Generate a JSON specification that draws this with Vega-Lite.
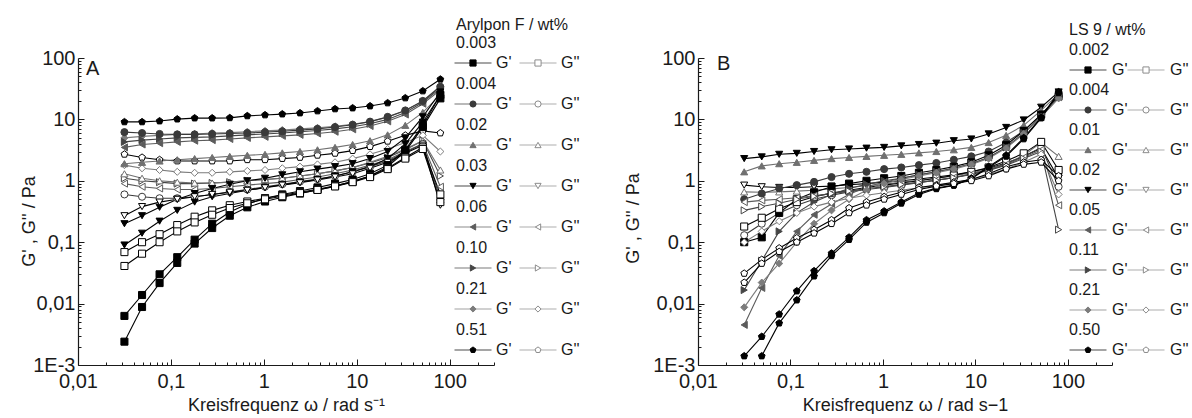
{
"$schema": "https://vega.github.io/schema/vega-lite/v6.json",
"background": "white",
"padding": {"left": 20, "top": 17, "right": 0, "bottom": 0},
"config": {
 "font": "Liberation Sans",
 "view": {"stroke": null},
 "axis": {"grid": false, "domainColor": "#1a1a1a", "tickColor": "#1a1a1a", "labelColor": "#1a1a1a", "titleColor": "#1a1a1a", "labelFontSize": 20, "titleFontSize": 18, "titleFontWeight": "normal", "labelOverlap": false, "labelFlush": false, "domainWidth": 1.2, "tickWidth": 1}
},
"datasets": {
"A": [
{"c":"0.51","m":"G'","w":0.0316,"v":9.1},{"c":"0.51","m":"G'","w":0.0489,"v":9.1},{"c":"0.51","m":"G'","w":0.0755,"v":9.4},{"c":"0.51","m":"G'","w":0.117,"v":10.1},{"c":"0.51","m":"G'","w":0.18,"v":10.5},{"c":"0.51","m":"G'","w":0.278,"v":10.5},{"c":"0.51","m":"G'","w":0.43,"v":10.6},{"c":"0.51","m":"G'","w":0.664,"v":11.4},{"c":"0.51","m":"G'","w":1.03,"v":11.8},{"c":"0.51","m":"G'","w":1.58,"v":12.2},{"c":"0.51","m":"G'","w":2.45,"v":12.7},{"c":"0.51","m":"G'","w":3.78,"v":13.7},{"c":"0.51","m":"G'","w":5.84,"v":14.8},{"c":"0.51","m":"G'","w":9.03,"v":15.3},{"c":"0.51","m":"G'","w":13.9,"v":16.5},{"c":"0.51","m":"G'","w":21.5,"v":18.5},{"c":"0.51","m":"G'","w":33.3,"v":22.3},{"c":"0.51","m":"G'","w":51.4,"v":29},{"c":"0.51","m":"G'","w":79.4,"v":45},
{"c":"0.51","m":"G''","w":0.0316,"v":2.7},{"c":"0.51","m":"G''","w":0.0489,"v":2.4},{"c":"0.51","m":"G''","w":0.0755,"v":2.2},{"c":"0.51","m":"G''","w":0.117,"v":2.1},{"c":"0.51","m":"G''","w":0.18,"v":2.1},{"c":"0.51","m":"G''","w":0.278,"v":2.1},{"c":"0.51","m":"G''","w":0.43,"v":2.1},{"c":"0.51","m":"G''","w":0.664,"v":2.2},{"c":"0.51","m":"G''","w":1.03,"v":2.2},{"c":"0.51","m":"G''","w":1.58,"v":2.3},{"c":"0.51","m":"G''","w":2.45,"v":2.4},{"c":"0.51","m":"G''","w":3.78,"v":2.6},{"c":"0.51","m":"G''","w":5.84,"v":2.8},{"c":"0.51","m":"G''","w":9.03,"v":3.1},{"c":"0.51","m":"G''","w":13.9,"v":3.6},{"c":"0.51","m":"G''","w":21.5,"v":4.4},{"c":"0.51","m":"G''","w":33.3,"v":5.5},{"c":"0.51","m":"G''","w":51.4,"v":6.5},{"c":"0.51","m":"G''","w":79.4,"v":6.0},
{"c":"0.21","m":"G'","w":0.0316,"v":5.0},{"c":"0.21","m":"G'","w":0.0489,"v":5.3},{"c":"0.21","m":"G'","w":0.0755,"v":5.5},{"c":"0.21","m":"G'","w":0.117,"v":5.7},{"c":"0.21","m":"G'","w":0.18,"v":5.8},{"c":"0.21","m":"G'","w":0.278,"v":6.0},{"c":"0.21","m":"G'","w":0.43,"v":6.1},{"c":"0.21","m":"G'","w":0.664,"v":6.3},{"c":"0.21","m":"G'","w":1.03,"v":6.5},{"c":"0.21","m":"G'","w":1.58,"v":6.7},{"c":"0.21","m":"G'","w":2.45,"v":7.0},{"c":"0.21","m":"G'","w":3.78,"v":7.3},{"c":"0.21","m":"G'","w":5.84,"v":7.7},{"c":"0.21","m":"G'","w":9.03,"v":8.3},{"c":"0.21","m":"G'","w":13.9,"v":9.2},{"c":"0.21","m":"G'","w":21.5,"v":10.8},{"c":"0.21","m":"G'","w":33.3,"v":14},{"c":"0.21","m":"G'","w":51.4,"v":20},{"c":"0.21","m":"G'","w":79.4,"v":35},
{"c":"0.21","m":"G''","w":0.0316,"v":1.8},{"c":"0.21","m":"G''","w":0.0489,"v":1.6},{"c":"0.21","m":"G''","w":0.0755,"v":1.5},{"c":"0.21","m":"G''","w":0.117,"v":1.4},{"c":"0.21","m":"G''","w":0.18,"v":1.35},{"c":"0.21","m":"G''","w":0.278,"v":1.35},{"c":"0.21","m":"G''","w":0.43,"v":1.4},{"c":"0.21","m":"G''","w":0.664,"v":1.45},{"c":"0.21","m":"G''","w":1.03,"v":1.5},{"c":"0.21","m":"G''","w":1.58,"v":1.6},{"c":"0.21","m":"G''","w":2.45,"v":1.7},{"c":"0.21","m":"G''","w":3.78,"v":1.85},{"c":"0.21","m":"G''","w":5.84,"v":2.0},{"c":"0.21","m":"G''","w":9.03,"v":2.3},{"c":"0.21","m":"G''","w":13.9,"v":2.7},{"c":"0.21","m":"G''","w":21.5,"v":3.3},{"c":"0.21","m":"G''","w":33.3,"v":4.2},{"c":"0.21","m":"G''","w":51.4,"v":5.5},{"c":"0.21","m":"G''","w":79.4,"v":3.0},
{"c":"0.10","m":"G'","w":0.0316,"v":4.3},{"c":"0.10","m":"G'","w":0.0489,"v":4.6},{"c":"0.10","m":"G'","w":0.0755,"v":4.8},{"c":"0.10","m":"G'","w":0.117,"v":5.0},{"c":"0.10","m":"G'","w":0.18,"v":5.1},{"c":"0.10","m":"G'","w":0.278,"v":5.2},{"c":"0.10","m":"G'","w":0.43,"v":5.4},{"c":"0.10","m":"G'","w":0.664,"v":5.6},{"c":"0.10","m":"G'","w":1.03,"v":5.8},{"c":"0.10","m":"G'","w":1.58,"v":6.0},{"c":"0.10","m":"G'","w":2.45,"v":6.3},{"c":"0.10","m":"G'","w":3.78,"v":6.6},{"c":"0.10","m":"G'","w":5.84,"v":7.0},{"c":"0.10","m":"G'","w":9.03,"v":7.6},{"c":"0.10","m":"G'","w":13.9,"v":8.5},{"c":"0.10","m":"G'","w":21.5,"v":10},{"c":"0.10","m":"G'","w":33.3,"v":13},{"c":"0.10","m":"G'","w":51.4,"v":19},{"c":"0.10","m":"G'","w":79.4,"v":32},
{"c":"0.10","m":"G''","w":0.0316,"v":1.1},{"c":"0.10","m":"G''","w":0.0489,"v":1.0},{"c":"0.10","m":"G''","w":0.0755,"v":0.95},{"c":"0.10","m":"G''","w":0.117,"v":0.9},{"c":"0.10","m":"G''","w":0.18,"v":0.9},{"c":"0.10","m":"G''","w":0.278,"v":0.92},{"c":"0.10","m":"G''","w":0.43,"v":0.95},{"c":"0.10","m":"G''","w":0.664,"v":1.0},{"c":"0.10","m":"G''","w":1.03,"v":1.05},{"c":"0.10","m":"G''","w":1.58,"v":1.1},{"c":"0.10","m":"G''","w":2.45,"v":1.2},{"c":"0.10","m":"G''","w":3.78,"v":1.3},{"c":"0.10","m":"G''","w":5.84,"v":1.45},{"c":"0.10","m":"G''","w":9.03,"v":1.65},{"c":"0.10","m":"G''","w":13.9,"v":1.95},{"c":"0.10","m":"G''","w":21.5,"v":2.4},{"c":"0.10","m":"G''","w":33.3,"v":3.2},{"c":"0.10","m":"G''","w":51.4,"v":4.5},{"c":"0.10","m":"G''","w":79.4,"v":1.2},
{"c":"0.06","m":"G'","w":0.0316,"v":3.5},{"c":"0.06","m":"G'","w":0.0489,"v":3.9},{"c":"0.06","m":"G'","w":0.0755,"v":4.1},{"c":"0.06","m":"G'","w":0.117,"v":4.3},{"c":"0.06","m":"G'","w":0.18,"v":4.5},{"c":"0.06","m":"G'","w":0.278,"v":4.6},{"c":"0.06","m":"G'","w":0.43,"v":4.8},{"c":"0.06","m":"G'","w":0.664,"v":5.0},{"c":"0.06","m":"G'","w":1.03,"v":5.2},{"c":"0.06","m":"G'","w":1.58,"v":5.4},{"c":"0.06","m":"G'","w":2.45,"v":5.6},{"c":"0.06","m":"G'","w":3.78,"v":5.9},{"c":"0.06","m":"G'","w":5.84,"v":6.3},{"c":"0.06","m":"G'","w":9.03,"v":6.9},{"c":"0.06","m":"G'","w":13.9,"v":7.8},{"c":"0.06","m":"G'","w":21.5,"v":9.3},{"c":"0.06","m":"G'","w":33.3,"v":12},{"c":"0.06","m":"G'","w":51.4,"v":18},{"c":"0.06","m":"G'","w":79.4,"v":30},
{"c":"0.06","m":"G''","w":0.0316,"v":0.9},{"c":"0.06","m":"G''","w":0.0489,"v":0.8},{"c":"0.06","m":"G''","w":0.0755,"v":0.75},{"c":"0.06","m":"G''","w":0.117,"v":0.72},{"c":"0.06","m":"G''","w":0.18,"v":0.72},{"c":"0.06","m":"G''","w":0.278,"v":0.75},{"c":"0.06","m":"G''","w":0.43,"v":0.8},{"c":"0.06","m":"G''","w":0.664,"v":0.85},{"c":"0.06","m":"G''","w":1.03,"v":0.9},{"c":"0.06","m":"G''","w":1.58,"v":0.95},{"c":"0.06","m":"G''","w":2.45,"v":1.05},{"c":"0.06","m":"G''","w":3.78,"v":1.15},{"c":"0.06","m":"G''","w":5.84,"v":1.3},{"c":"0.06","m":"G''","w":9.03,"v":1.5},{"c":"0.06","m":"G''","w":13.9,"v":1.8},{"c":"0.06","m":"G''","w":21.5,"v":2.2},{"c":"0.06","m":"G''","w":33.3,"v":3.0},{"c":"0.06","m":"G''","w":51.4,"v":4.0},{"c":"0.06","m":"G''","w":79.4,"v":0.8},
{"c":"0.02","m":"G'","w":0.0316,"v":1.9},{"c":"0.02","m":"G'","w":0.0489,"v":2.0},{"c":"0.02","m":"G'","w":0.0755,"v":2.1},{"c":"0.02","m":"G'","w":0.117,"v":2.2},{"c":"0.02","m":"G'","w":0.18,"v":2.3},{"c":"0.02","m":"G'","w":0.278,"v":2.4},{"c":"0.02","m":"G'","w":0.43,"v":2.5},{"c":"0.02","m":"G'","w":0.664,"v":2.6},{"c":"0.02","m":"G'","w":1.03,"v":2.7},{"c":"0.02","m":"G'","w":1.58,"v":2.85},{"c":"0.02","m":"G'","w":2.45,"v":3.0},{"c":"0.02","m":"G'","w":3.78,"v":3.2},{"c":"0.02","m":"G'","w":5.84,"v":3.5},{"c":"0.02","m":"G'","w":9.03,"v":3.9},{"c":"0.02","m":"G'","w":13.9,"v":4.5},{"c":"0.02","m":"G'","w":21.5,"v":5.6},{"c":"0.02","m":"G'","w":33.3,"v":8},{"c":"0.02","m":"G'","w":51.4,"v":13},{"c":"0.02","m":"G'","w":79.4,"v":25},
{"c":"0.02","m":"G''","w":0.0316,"v":1.3},{"c":"0.02","m":"G''","w":0.0489,"v":1.1},{"c":"0.02","m":"G''","w":0.0755,"v":1.0},{"c":"0.02","m":"G''","w":0.117,"v":0.95},{"c":"0.02","m":"G''","w":0.18,"v":0.92},{"c":"0.02","m":"G''","w":0.278,"v":0.92},{"c":"0.02","m":"G''","w":0.43,"v":0.95},{"c":"0.02","m":"G''","w":0.664,"v":1.0},{"c":"0.02","m":"G''","w":1.03,"v":1.05},{"c":"0.02","m":"G''","w":1.58,"v":1.1},{"c":"0.02","m":"G''","w":2.45,"v":1.2},{"c":"0.02","m":"G''","w":3.78,"v":1.3},{"c":"0.02","m":"G''","w":5.84,"v":1.45},{"c":"0.02","m":"G''","w":9.03,"v":1.65},{"c":"0.02","m":"G''","w":13.9,"v":2.0},{"c":"0.02","m":"G''","w":21.5,"v":2.5},{"c":"0.02","m":"G''","w":33.3,"v":3.3},{"c":"0.02","m":"G''","w":51.4,"v":4.5},{"c":"0.02","m":"G''","w":79.4,"v":1.5},
{"c":"0.004","m":"G'","w":0.0316,"v":6.2},{"c":"0.004","m":"G'","w":0.0489,"v":6.0},{"c":"0.004","m":"G'","w":0.0755,"v":5.8},{"c":"0.004","m":"G'","w":0.117,"v":5.7},{"c":"0.004","m":"G'","w":0.18,"v":5.7},{"c":"0.004","m":"G'","w":0.278,"v":5.8},{"c":"0.004","m":"G'","w":0.43,"v":5.9},{"c":"0.004","m":"G'","w":0.664,"v":6.0},{"c":"0.004","m":"G'","w":1.03,"v":6.2},{"c":"0.004","m":"G'","w":1.58,"v":6.4},{"c":"0.004","m":"G'","w":2.45,"v":6.7},{"c":"0.004","m":"G'","w":3.78,"v":7.0},{"c":"0.004","m":"G'","w":5.84,"v":7.5},{"c":"0.004","m":"G'","w":9.03,"v":8.2},{"c":"0.004","m":"G'","w":13.9,"v":9.2},{"c":"0.004","m":"G'","w":21.5,"v":11},{"c":"0.004","m":"G'","w":33.3,"v":14},{"c":"0.004","m":"G'","w":51.4,"v":20},{"c":"0.004","m":"G'","w":79.4,"v":34},
{"c":"0.004","m":"G''","w":0.0316,"v":0.6},{"c":"0.004","m":"G''","w":0.0489,"v":0.55},{"c":"0.004","m":"G''","w":0.0755,"v":0.52},{"c":"0.004","m":"G''","w":0.117,"v":0.52},{"c":"0.004","m":"G''","w":0.18,"v":0.55},{"c":"0.004","m":"G''","w":0.278,"v":0.6},{"c":"0.004","m":"G''","w":0.43,"v":0.66},{"c":"0.004","m":"G''","w":0.664,"v":0.72},{"c":"0.004","m":"G''","w":1.03,"v":0.8},{"c":"0.004","m":"G''","w":1.58,"v":0.88},{"c":"0.004","m":"G''","w":2.45,"v":0.97},{"c":"0.004","m":"G''","w":3.78,"v":1.07},{"c":"0.004","m":"G''","w":5.84,"v":1.2},{"c":"0.004","m":"G''","w":9.03,"v":1.4},{"c":"0.004","m":"G''","w":13.9,"v":1.7},{"c":"0.004","m":"G''","w":21.5,"v":2.1},{"c":"0.004","m":"G''","w":33.3,"v":2.9},{"c":"0.004","m":"G''","w":51.4,"v":4.0},{"c":"0.004","m":"G''","w":79.4,"v":0.5},
{"c":"0.03","m":"G'","w":0.0316,"v":0.2},{"c":"0.03","m":"G'","w":0.0489,"v":0.27},{"c":"0.03","m":"G'","w":0.0755,"v":0.37},{"c":"0.03","m":"G'","w":0.117,"v":0.5},{"c":"0.03","m":"G'","w":0.18,"v":0.62},{"c":"0.03","m":"G'","w":0.278,"v":0.75},{"c":"0.03","m":"G'","w":0.43,"v":0.88},{"c":"0.03","m":"G'","w":0.664,"v":1.0},{"c":"0.03","m":"G'","w":1.03,"v":1.1},{"c":"0.03","m":"G'","w":1.58,"v":1.25},{"c":"0.03","m":"G'","w":2.45,"v":1.4},{"c":"0.03","m":"G'","w":3.78,"v":1.55},{"c":"0.03","m":"G'","w":5.84,"v":1.7},{"c":"0.03","m":"G'","w":9.03,"v":1.9},{"c":"0.03","m":"G'","w":13.9,"v":2.3},{"c":"0.03","m":"G'","w":21.5,"v":3.0},{"c":"0.03","m":"G'","w":33.3,"v":5},{"c":"0.03","m":"G'","w":51.4,"v":11},{"c":"0.03","m":"G'","w":79.4,"v":28},
{"c":"0.03","m":"G'","r":2,"w":0.0316,"v":0.09},{"c":"0.03","m":"G'","r":2,"w":0.0489,"v":0.14},{"c":"0.03","m":"G'","r":2,"w":0.0755,"v":0.22},{"c":"0.03","m":"G'","r":2,"w":0.117,"v":0.33},{"c":"0.03","m":"G'","r":2,"w":0.18,"v":0.45},{"c":"0.03","m":"G'","r":2,"w":0.278,"v":0.55},{"c":"0.03","m":"G'","r":2,"w":0.43,"v":0.62},{"c":"0.03","m":"G'","r":2,"w":0.664,"v":0.7},{"c":"0.03","m":"G'","r":2,"w":1.03,"v":0.78},{"c":"0.03","m":"G'","r":2,"w":1.58,"v":0.86},{"c":"0.03","m":"G'","r":2,"w":2.45,"v":0.95},{"c":"0.03","m":"G'","r":2,"w":3.78,"v":1.05},{"c":"0.03","m":"G'","r":2,"w":5.84,"v":1.2},{"c":"0.03","m":"G'","r":2,"w":9.03,"v":1.4},{"c":"0.03","m":"G'","r":2,"w":13.9,"v":1.7},{"c":"0.03","m":"G'","r":2,"w":21.5,"v":2.3},{"c":"0.03","m":"G'","r":2,"w":33.3,"v":4},{"c":"0.03","m":"G'","r":2,"w":51.4,"v":9},{"c":"0.03","m":"G'","r":2,"w":79.4,"v":25},
{"c":"0.03","m":"G''","w":0.0316,"v":0.27},{"c":"0.03","m":"G''","w":0.0489,"v":0.38},{"c":"0.03","m":"G''","w":0.0755,"v":0.45},{"c":"0.03","m":"G''","w":0.117,"v":0.5},{"c":"0.03","m":"G''","w":0.18,"v":0.55},{"c":"0.03","m":"G''","w":0.278,"v":0.6},{"c":"0.03","m":"G''","w":0.43,"v":0.65},{"c":"0.03","m":"G''","w":0.664,"v":0.7},{"c":"0.03","m":"G''","w":1.03,"v":0.77},{"c":"0.03","m":"G''","w":1.58,"v":0.85},{"c":"0.03","m":"G''","w":2.45,"v":0.93},{"c":"0.03","m":"G''","w":3.78,"v":1.03},{"c":"0.03","m":"G''","w":5.84,"v":1.15},{"c":"0.03","m":"G''","w":9.03,"v":1.3},{"c":"0.03","m":"G''","w":13.9,"v":1.6},{"c":"0.03","m":"G''","w":21.5,"v":2.0},{"c":"0.03","m":"G''","w":33.3,"v":2.8},{"c":"0.03","m":"G''","w":51.4,"v":3.8},{"c":"0.03","m":"G''","w":79.4,"v":0.4},
{"c":"0.003","m":"G'","w":0.0316,"v":0.0063},{"c":"0.003","m":"G'","w":0.0489,"v":0.0138},{"c":"0.003","m":"G'","w":0.0755,"v":0.03},{"c":"0.003","m":"G'","w":0.117,"v":0.057},{"c":"0.003","m":"G'","w":0.18,"v":0.11},{"c":"0.003","m":"G'","w":0.278,"v":0.2},{"c":"0.003","m":"G'","w":0.43,"v":0.31},{"c":"0.003","m":"G'","w":0.664,"v":0.42},{"c":"0.003","m":"G'","w":1.03,"v":0.52},{"c":"0.003","m":"G'","w":1.58,"v":0.6},{"c":"0.003","m":"G'","w":2.45,"v":0.68},{"c":"0.003","m":"G'","w":3.78,"v":0.78},{"c":"0.003","m":"G'","w":5.84,"v":0.9},{"c":"0.003","m":"G'","w":9.03,"v":1.05},{"c":"0.003","m":"G'","w":13.9,"v":1.3},{"c":"0.003","m":"G'","w":21.5,"v":1.8},{"c":"0.003","m":"G'","w":33.3,"v":3.2},{"c":"0.003","m":"G'","w":51.4,"v":8},{"c":"0.003","m":"G'","w":79.4,"v":25},
{"c":"0.003","m":"G'","r":2,"w":0.0316,"v":0.0024},{"c":"0.003","m":"G'","r":2,"w":0.0489,"v":0.0088},{"c":"0.003","m":"G'","r":2,"w":0.0755,"v":0.0216},{"c":"0.003","m":"G'","r":2,"w":0.117,"v":0.046},{"c":"0.003","m":"G'","r":2,"w":0.18,"v":0.095},{"c":"0.003","m":"G'","r":2,"w":0.278,"v":0.17},{"c":"0.003","m":"G'","r":2,"w":0.43,"v":0.27},{"c":"0.003","m":"G'","r":2,"w":0.664,"v":0.37},{"c":"0.003","m":"G'","r":2,"w":1.03,"v":0.46},{"c":"0.003","m":"G'","r":2,"w":1.58,"v":0.54},{"c":"0.003","m":"G'","r":2,"w":2.45,"v":0.62},{"c":"0.003","m":"G'","r":2,"w":3.78,"v":0.71},{"c":"0.003","m":"G'","r":2,"w":5.84,"v":0.82},{"c":"0.003","m":"G'","r":2,"w":9.03,"v":0.97},{"c":"0.003","m":"G'","r":2,"w":13.9,"v":1.2},{"c":"0.003","m":"G'","r":2,"w":21.5,"v":1.7},{"c":"0.003","m":"G'","r":2,"w":33.3,"v":3.0},{"c":"0.003","m":"G'","r":2,"w":51.4,"v":7.5},{"c":"0.003","m":"G'","r":2,"w":79.4,"v":22},
{"c":"0.003","m":"G''","w":0.0316,"v":0.069},{"c":"0.003","m":"G''","w":0.0489,"v":0.1},{"c":"0.003","m":"G''","w":0.0755,"v":0.135},{"c":"0.003","m":"G''","w":0.117,"v":0.19},{"c":"0.003","m":"G''","w":0.18,"v":0.26},{"c":"0.003","m":"G''","w":0.278,"v":0.33},{"c":"0.003","m":"G''","w":0.43,"v":0.4},{"c":"0.003","m":"G''","w":0.664,"v":0.46},{"c":"0.003","m":"G''","w":1.03,"v":0.52},{"c":"0.003","m":"G''","w":1.58,"v":0.58},{"c":"0.003","m":"G''","w":2.45,"v":0.65},{"c":"0.003","m":"G''","w":3.78,"v":0.73},{"c":"0.003","m":"G''","w":5.84,"v":0.83},{"c":"0.003","m":"G''","w":9.03,"v":0.97},{"c":"0.003","m":"G''","w":13.9,"v":1.2},{"c":"0.003","m":"G''","w":21.5,"v":1.6},{"c":"0.003","m":"G''","w":33.3,"v":2.4},{"c":"0.003","m":"G''","w":51.4,"v":3.5},{"c":"0.003","m":"G''","w":79.4,"v":0.6},
{"c":"0.003","m":"G''","r":2,"w":0.0316,"v":0.041},{"c":"0.003","m":"G''","r":2,"w":0.0489,"v":0.065},{"c":"0.003","m":"G''","r":2,"w":0.0755,"v":0.1},{"c":"0.003","m":"G''","r":2,"w":0.117,"v":0.15},{"c":"0.003","m":"G''","r":2,"w":0.18,"v":0.21},{"c":"0.003","m":"G''","r":2,"w":0.278,"v":0.28},{"c":"0.003","m":"G''","r":2,"w":0.43,"v":0.36},{"c":"0.003","m":"G''","r":2,"w":0.664,"v":0.43},{"c":"0.003","m":"G''","r":2,"w":1.03,"v":0.5},{"c":"0.003","m":"G''","r":2,"w":1.58,"v":0.56},{"c":"0.003","m":"G''","r":2,"w":2.45,"v":0.63},{"c":"0.003","m":"G''","r":2,"w":3.78,"v":0.71},{"c":"0.003","m":"G''","r":2,"w":5.84,"v":0.81},{"c":"0.003","m":"G''","r":2,"w":9.03,"v":0.95},{"c":"0.003","m":"G''","r":2,"w":13.9,"v":1.15},{"c":"0.003","m":"G''","r":2,"w":21.5,"v":1.55},{"c":"0.003","m":"G''","r":2,"w":33.3,"v":2.3},{"c":"0.003","m":"G''","r":2,"w":51.4,"v":3.3},{"c":"0.003","m":"G''","r":2,"w":79.4,"v":0.45}
],
"B": [
{"c":"0.02","m":"G'","w":0.0316,"v":2.3},{"c":"0.02","m":"G'","w":0.0489,"v":2.45},{"c":"0.02","m":"G'","w":0.0755,"v":2.7},{"c":"0.02","m":"G'","w":0.117,"v":2.8},{"c":"0.02","m":"G'","w":0.18,"v":3.0},{"c":"0.02","m":"G'","w":0.278,"v":3.2},{"c":"0.02","m":"G'","w":0.43,"v":3.3},{"c":"0.02","m":"G'","w":0.664,"v":3.4},{"c":"0.02","m":"G'","w":1.03,"v":3.5},{"c":"0.02","m":"G'","w":1.58,"v":3.7},{"c":"0.02","m":"G'","w":2.45,"v":3.9},{"c":"0.02","m":"G'","w":3.78,"v":4.1},{"c":"0.02","m":"G'","w":5.84,"v":4.5},{"c":"0.02","m":"G'","w":9.03,"v":4.8},{"c":"0.02","m":"G'","w":13.9,"v":5.8},{"c":"0.02","m":"G'","w":21.5,"v":7.4},{"c":"0.02","m":"G'","w":33.3,"v":9.8},{"c":"0.02","m":"G'","w":51.4,"v":15.8},{"c":"0.02","m":"G'","w":79.4,"v":28},
{"c":"0.02","m":"G''","w":0.0316,"v":0.85},{"c":"0.02","m":"G''","w":0.0489,"v":0.8},{"c":"0.02","m":"G''","w":0.0755,"v":0.78},{"c":"0.02","m":"G''","w":0.117,"v":0.78},{"c":"0.02","m":"G''","w":0.18,"v":0.8},{"c":"0.02","m":"G''","w":0.278,"v":0.82},{"c":"0.02","m":"G''","w":0.43,"v":0.86},{"c":"0.02","m":"G''","w":0.664,"v":0.9},{"c":"0.02","m":"G''","w":1.03,"v":0.95},{"c":"0.02","m":"G''","w":1.58,"v":1.0},{"c":"0.02","m":"G''","w":2.45,"v":1.07},{"c":"0.02","m":"G''","w":3.78,"v":1.15},{"c":"0.02","m":"G''","w":5.84,"v":1.25},{"c":"0.02","m":"G''","w":9.03,"v":1.4},{"c":"0.02","m":"G''","w":13.9,"v":1.6},{"c":"0.02","m":"G''","w":21.5,"v":1.95},{"c":"0.02","m":"G''","w":33.3,"v":2.5},{"c":"0.02","m":"G''","w":51.4,"v":3.4},{"c":"0.02","m":"G''","w":79.4,"v":1.1},
{"c":"0.01","m":"G'","w":0.0316,"v":1.4},{"c":"0.01","m":"G'","w":0.0489,"v":1.75},{"c":"0.01","m":"G'","w":0.0755,"v":1.9},{"c":"0.01","m":"G'","w":0.117,"v":2.0},{"c":"0.01","m":"G'","w":0.18,"v":2.15},{"c":"0.01","m":"G'","w":0.278,"v":2.3},{"c":"0.01","m":"G'","w":0.43,"v":2.4},{"c":"0.01","m":"G'","w":0.664,"v":2.5},{"c":"0.01","m":"G'","w":1.03,"v":2.6},{"c":"0.01","m":"G'","w":1.58,"v":2.7},{"c":"0.01","m":"G'","w":2.45,"v":2.85},{"c":"0.01","m":"G'","w":3.78,"v":3.0},{"c":"0.01","m":"G'","w":5.84,"v":3.2},{"c":"0.01","m":"G'","w":9.03,"v":3.5},{"c":"0.01","m":"G'","w":13.9,"v":4.2},{"c":"0.01","m":"G'","w":21.5,"v":5.5},{"c":"0.01","m":"G'","w":33.3,"v":8},{"c":"0.01","m":"G'","w":51.4,"v":14},{"c":"0.01","m":"G'","w":79.4,"v":26},
{"c":"0.01","m":"G''","w":0.0316,"v":0.66},{"c":"0.01","m":"G''","w":0.0489,"v":0.65},{"c":"0.01","m":"G''","w":0.0755,"v":0.66},{"c":"0.01","m":"G''","w":0.117,"v":0.68},{"c":"0.01","m":"G''","w":0.18,"v":0.7},{"c":"0.01","m":"G''","w":0.278,"v":0.74},{"c":"0.01","m":"G''","w":0.43,"v":0.78},{"c":"0.01","m":"G''","w":0.664,"v":0.83},{"c":"0.01","m":"G''","w":1.03,"v":0.88},{"c":"0.01","m":"G''","w":1.58,"v":0.95},{"c":"0.01","m":"G''","w":2.45,"v":1.02},{"c":"0.01","m":"G''","w":3.78,"v":1.1},{"c":"0.01","m":"G''","w":5.84,"v":1.2},{"c":"0.01","m":"G''","w":9.03,"v":1.35},{"c":"0.01","m":"G''","w":13.9,"v":1.55},{"c":"0.01","m":"G''","w":21.5,"v":1.9},{"c":"0.01","m":"G''","w":33.3,"v":2.6},{"c":"0.01","m":"G''","w":51.4,"v":4.2},{"c":"0.01","m":"G''","w":79.4,"v":2.5},
{"c":"0.004","m":"G'","w":0.0316,"v":0.5},{"c":"0.004","m":"G'","w":0.0489,"v":0.62},{"c":"0.004","m":"G'","w":0.0755,"v":0.75},{"c":"0.004","m":"G'","w":0.117,"v":0.85},{"c":"0.004","m":"G'","w":0.18,"v":0.96},{"c":"0.004","m":"G'","w":0.278,"v":1.15},{"c":"0.004","m":"G'","w":0.43,"v":1.3},{"c":"0.004","m":"G'","w":0.664,"v":1.4},{"c":"0.004","m":"G'","w":1.03,"v":1.55},{"c":"0.004","m":"G'","w":1.58,"v":1.65},{"c":"0.004","m":"G'","w":2.45,"v":1.8},{"c":"0.004","m":"G'","w":3.78,"v":1.95},{"c":"0.004","m":"G'","w":5.84,"v":2.2},{"c":"0.004","m":"G'","w":9.03,"v":2.5},{"c":"0.004","m":"G'","w":13.9,"v":3.0},{"c":"0.004","m":"G'","w":21.5,"v":4.2},{"c":"0.004","m":"G'","w":33.3,"v":6.5},{"c":"0.004","m":"G'","w":51.4,"v":12},{"c":"0.004","m":"G'","w":79.4,"v":24},
{"c":"0.004","m":"G''","w":0.0316,"v":0.13},{"c":"0.004","m":"G''","w":0.0489,"v":0.2},{"c":"0.004","m":"G''","w":0.0755,"v":0.3},{"c":"0.004","m":"G''","w":0.117,"v":0.4},{"c":"0.004","m":"G''","w":0.18,"v":0.5},{"c":"0.004","m":"G''","w":0.278,"v":0.58},{"c":"0.004","m":"G''","w":0.43,"v":0.66},{"c":"0.004","m":"G''","w":0.664,"v":0.72},{"c":"0.004","m":"G''","w":1.03,"v":0.78},{"c":"0.004","m":"G''","w":1.58,"v":0.85},{"c":"0.004","m":"G''","w":2.45,"v":0.93},{"c":"0.004","m":"G''","w":3.78,"v":1.02},{"c":"0.004","m":"G''","w":5.84,"v":1.12},{"c":"0.004","m":"G''","w":9.03,"v":1.3},{"c":"0.004","m":"G''","w":13.9,"v":1.5},{"c":"0.004","m":"G''","w":21.5,"v":1.9},{"c":"0.004","m":"G''","w":33.3,"v":2.5},{"c":"0.004","m":"G''","w":51.4,"v":3.5},{"c":"0.004","m":"G''","w":79.4,"v":0.8},
{"c":"0.002","m":"G'","w":0.0316,"v":0.1},{"c":"0.002","m":"G'","w":0.0489,"v":0.12},{"c":"0.002","m":"G'","w":0.0755,"v":0.3},{"c":"0.002","m":"G'","w":0.117,"v":0.5},{"c":"0.002","m":"G'","w":0.18,"v":0.65},{"c":"0.002","m":"G'","w":0.278,"v":0.8},{"c":"0.002","m":"G'","w":0.43,"v":0.9},{"c":"0.002","m":"G'","w":0.664,"v":1.0},{"c":"0.002","m":"G'","w":1.03,"v":1.1},{"c":"0.002","m":"G'","w":1.58,"v":1.2},{"c":"0.002","m":"G'","w":2.45,"v":1.35},{"c":"0.002","m":"G'","w":3.78,"v":1.5},{"c":"0.002","m":"G'","w":5.84,"v":1.7},{"c":"0.002","m":"G'","w":9.03,"v":2.0},{"c":"0.002","m":"G'","w":13.9,"v":2.6},{"c":"0.002","m":"G'","w":21.5,"v":3.8},{"c":"0.002","m":"G'","w":33.3,"v":6.5},{"c":"0.002","m":"G'","w":51.4,"v":12},{"c":"0.002","m":"G'","w":79.4,"v":24},
{"c":"0.002","m":"G''","w":0.0316,"v":0.18},{"c":"0.002","m":"G''","w":0.0489,"v":0.25},{"c":"0.002","m":"G''","w":0.0755,"v":0.35},{"c":"0.002","m":"G''","w":0.117,"v":0.45},{"c":"0.002","m":"G''","w":0.18,"v":0.55},{"c":"0.002","m":"G''","w":0.278,"v":0.63},{"c":"0.002","m":"G''","w":0.43,"v":0.7},{"c":"0.002","m":"G''","w":0.664,"v":0.78},{"c":"0.002","m":"G''","w":1.03,"v":0.85},{"c":"0.002","m":"G''","w":1.58,"v":0.92},{"c":"0.002","m":"G''","w":2.45,"v":1.0},{"c":"0.002","m":"G''","w":3.78,"v":1.1},{"c":"0.002","m":"G''","w":5.84,"v":1.22},{"c":"0.002","m":"G''","w":9.03,"v":1.4},{"c":"0.002","m":"G''","w":13.9,"v":1.65},{"c":"0.002","m":"G''","w":21.5,"v":2.1},{"c":"0.002","m":"G''","w":33.3,"v":2.8},{"c":"0.002","m":"G''","w":51.4,"v":4.3},{"c":"0.002","m":"G''","w":79.4,"v":1.5},
{"c":"0.05","m":"G'","w":0.0316,"v":0.0045},{"c":"0.05","m":"G'","w":0.0489,"v":0.018},{"c":"0.05","m":"G'","w":0.0755,"v":0.06},{"c":"0.05","m":"G'","w":0.117,"v":0.15},{"c":"0.05","m":"G'","w":0.18,"v":0.28},{"c":"0.05","m":"G'","w":0.278,"v":0.42},{"c":"0.05","m":"G'","w":0.43,"v":0.6},{"c":"0.05","m":"G'","w":0.664,"v":0.8},{"c":"0.05","m":"G'","w":1.03,"v":0.95},{"c":"0.05","m":"G'","w":1.58,"v":1.1},{"c":"0.05","m":"G'","w":2.45,"v":1.25},{"c":"0.05","m":"G'","w":3.78,"v":1.4},{"c":"0.05","m":"G'","w":5.84,"v":1.6},{"c":"0.05","m":"G'","w":9.03,"v":1.9},{"c":"0.05","m":"G'","w":13.9,"v":2.4},{"c":"0.05","m":"G'","w":21.5,"v":3.5},{"c":"0.05","m":"G'","w":33.3,"v":6},{"c":"0.05","m":"G'","w":51.4,"v":11},{"c":"0.05","m":"G'","w":79.4,"v":23},
{"c":"0.05","m":"G''","w":0.0316,"v":0.45},{"c":"0.05","m":"G''","w":0.0489,"v":0.48},{"c":"0.05","m":"G''","w":0.0755,"v":0.5},{"c":"0.05","m":"G''","w":0.117,"v":0.53},{"c":"0.05","m":"G''","w":0.18,"v":0.57},{"c":"0.05","m":"G''","w":0.278,"v":0.62},{"c":"0.05","m":"G''","w":0.43,"v":0.68},{"c":"0.05","m":"G''","w":0.664,"v":0.74},{"c":"0.05","m":"G''","w":1.03,"v":0.8},{"c":"0.05","m":"G''","w":1.58,"v":0.87},{"c":"0.05","m":"G''","w":2.45,"v":0.95},{"c":"0.05","m":"G''","w":3.78,"v":1.03},{"c":"0.05","m":"G''","w":5.84,"v":1.13},{"c":"0.05","m":"G''","w":9.03,"v":1.28},{"c":"0.05","m":"G''","w":13.9,"v":1.5},{"c":"0.05","m":"G''","w":21.5,"v":1.85},{"c":"0.05","m":"G''","w":33.3,"v":2.4},{"c":"0.05","m":"G''","w":51.4,"v":3.2},{"c":"0.05","m":"G''","w":79.4,"v":0.4},
{"c":"0.11","m":"G'","w":0.0316,"v":0.0166},{"c":"0.11","m":"G'","w":0.0489,"v":0.05},{"c":"0.11","m":"G'","w":0.0755,"v":0.15},{"c":"0.11","m":"G'","w":0.117,"v":0.3},{"c":"0.11","m":"G'","w":0.18,"v":0.45},{"c":"0.11","m":"G'","w":0.278,"v":0.6},{"c":"0.11","m":"G'","w":0.43,"v":0.75},{"c":"0.11","m":"G'","w":0.664,"v":0.88},{"c":"0.11","m":"G'","w":1.03,"v":1.0},{"c":"0.11","m":"G'","w":1.58,"v":1.1},{"c":"0.11","m":"G'","w":2.45,"v":1.25},{"c":"0.11","m":"G'","w":3.78,"v":1.4},{"c":"0.11","m":"G'","w":5.84,"v":1.6},{"c":"0.11","m":"G'","w":9.03,"v":1.9},{"c":"0.11","m":"G'","w":13.9,"v":2.4},{"c":"0.11","m":"G'","w":21.5,"v":3.5},{"c":"0.11","m":"G'","w":33.3,"v":6},{"c":"0.11","m":"G'","w":51.4,"v":11},{"c":"0.11","m":"G'","w":79.4,"v":23},
{"c":"0.11","m":"G''","w":0.0316,"v":0.33},{"c":"0.11","m":"G''","w":0.0489,"v":0.38},{"c":"0.11","m":"G''","w":0.0755,"v":0.43},{"c":"0.11","m":"G''","w":0.117,"v":0.5},{"c":"0.11","m":"G''","w":0.18,"v":0.56},{"c":"0.11","m":"G''","w":0.278,"v":0.62},{"c":"0.11","m":"G''","w":0.43,"v":0.68},{"c":"0.11","m":"G''","w":0.664,"v":0.74},{"c":"0.11","m":"G''","w":1.03,"v":0.8},{"c":"0.11","m":"G''","w":1.58,"v":0.87},{"c":"0.11","m":"G''","w":2.45,"v":0.94},{"c":"0.11","m":"G''","w":3.78,"v":1.02},{"c":"0.11","m":"G''","w":5.84,"v":1.12},{"c":"0.11","m":"G''","w":9.03,"v":1.27},{"c":"0.11","m":"G''","w":13.9,"v":1.48},{"c":"0.11","m":"G''","w":21.5,"v":1.8},{"c":"0.11","m":"G''","w":33.3,"v":2.3},{"c":"0.11","m":"G''","w":51.4,"v":3.0},{"c":"0.11","m":"G''","w":79.4,"v":0.16},
{"c":"0.21","m":"G'","w":0.0316,"v":0.0087},{"c":"0.21","m":"G'","w":0.0489,"v":0.022},{"c":"0.21","m":"G'","w":0.0755,"v":0.045},{"c":"0.21","m":"G'","w":0.117,"v":0.1},{"c":"0.21","m":"G'","w":0.18,"v":0.2},{"c":"0.21","m":"G'","w":0.278,"v":0.33},{"c":"0.21","m":"G'","w":0.43,"v":0.5},{"c":"0.21","m":"G'","w":0.664,"v":0.7},{"c":"0.21","m":"G'","w":1.03,"v":0.9},{"c":"0.21","m":"G'","w":1.58,"v":1.05},{"c":"0.21","m":"G'","w":2.45,"v":1.2},{"c":"0.21","m":"G'","w":3.78,"v":1.35},{"c":"0.21","m":"G'","w":5.84,"v":1.55},{"c":"0.21","m":"G'","w":9.03,"v":1.85},{"c":"0.21","m":"G'","w":13.9,"v":2.3},{"c":"0.21","m":"G'","w":21.5,"v":3.4},{"c":"0.21","m":"G'","w":33.3,"v":5.8},{"c":"0.21","m":"G'","w":51.4,"v":11},{"c":"0.21","m":"G'","w":79.4,"v":22},
{"c":"0.21","m":"G''","w":0.0316,"v":0.1},{"c":"0.21","m":"G''","w":0.0489,"v":0.15},{"c":"0.21","m":"G''","w":0.0755,"v":0.22},{"c":"0.21","m":"G''","w":0.117,"v":0.3},{"c":"0.21","m":"G''","w":0.18,"v":0.38},{"c":"0.21","m":"G''","w":0.278,"v":0.45},{"c":"0.21","m":"G''","w":0.43,"v":0.52},{"c":"0.21","m":"G''","w":0.664,"v":0.58},{"c":"0.21","m":"G''","w":1.03,"v":0.64},{"c":"0.21","m":"G''","w":1.58,"v":0.7},{"c":"0.21","m":"G''","w":2.45,"v":0.77},{"c":"0.21","m":"G''","w":3.78,"v":0.84},{"c":"0.21","m":"G''","w":5.84,"v":0.93},{"c":"0.21","m":"G''","w":9.03,"v":1.05},{"c":"0.21","m":"G''","w":13.9,"v":1.25},{"c":"0.21","m":"G''","w":21.5,"v":1.55},{"c":"0.21","m":"G''","w":33.3,"v":2.0},{"c":"0.21","m":"G''","w":51.4,"v":2.7},{"c":"0.21","m":"G''","w":79.4,"v":0.6},
{"c":"0.50","m":"G'","w":0.0316,"v":0.0014},{"c":"0.50","m":"G'","w":0.0489,"v":0.0029},{"c":"0.50","m":"G'","w":0.0755,"v":0.0067},{"c":"0.50","m":"G'","w":0.117,"v":0.016},{"c":"0.50","m":"G'","w":0.18,"v":0.034},{"c":"0.50","m":"G'","w":0.278,"v":0.066},{"c":"0.50","m":"G'","w":0.43,"v":0.12},{"c":"0.50","m":"G'","w":0.664,"v":0.23},{"c":"0.50","m":"G'","w":1.03,"v":0.32},{"c":"0.50","m":"G'","w":1.58,"v":0.45},{"c":"0.50","m":"G'","w":2.45,"v":0.63},{"c":"0.50","m":"G'","w":3.78,"v":0.76},{"c":"0.50","m":"G'","w":5.84,"v":0.85},{"c":"0.50","m":"G'","w":9.03,"v":1.1},{"c":"0.50","m":"G'","w":13.9,"v":1.7},{"c":"0.50","m":"G'","w":21.5,"v":2.6},{"c":"0.50","m":"G'","w":33.3,"v":5.0},{"c":"0.50","m":"G'","w":51.4,"v":10.8},{"c":"0.50","m":"G'","w":79.4,"v":28},
{"c":"0.50","m":"G'","r":2,"w":0.0489,"v":0.0014},{"c":"0.50","m":"G'","r":2,"w":0.0755,"v":0.0048},{"c":"0.50","m":"G'","r":2,"w":0.117,"v":0.0114},{"c":"0.50","m":"G'","r":2,"w":0.18,"v":0.028},{"c":"0.50","m":"G'","r":2,"w":0.278,"v":0.06},{"c":"0.50","m":"G'","r":2,"w":0.43,"v":0.11},{"c":"0.50","m":"G'","r":2,"w":0.664,"v":0.21},{"c":"0.50","m":"G'","r":2,"w":1.03,"v":0.3},{"c":"0.50","m":"G'","r":2,"w":1.58,"v":0.43},{"c":"0.50","m":"G'","r":2,"w":2.45,"v":0.6},{"c":"0.50","m":"G'","r":2,"w":3.78,"v":0.74},{"c":"0.50","m":"G'","r":2,"w":5.84,"v":0.84},{"c":"0.50","m":"G'","r":2,"w":9.03,"v":1.08},{"c":"0.50","m":"G'","r":2,"w":13.9,"v":1.65},{"c":"0.50","m":"G'","r":2,"w":21.5,"v":2.5},{"c":"0.50","m":"G'","r":2,"w":33.3,"v":4.8},{"c":"0.50","m":"G'","r":2,"w":51.4,"v":10.5},{"c":"0.50","m":"G'","r":2,"w":79.4,"v":27},
{"c":"0.50","m":"G''","w":0.0316,"v":0.031},{"c":"0.50","m":"G''","w":0.0489,"v":0.052},{"c":"0.50","m":"G''","w":0.0755,"v":0.08},{"c":"0.50","m":"G''","w":0.117,"v":0.117},{"c":"0.50","m":"G''","w":0.18,"v":0.16},{"c":"0.50","m":"G''","w":0.278,"v":0.23},{"c":"0.50","m":"G''","w":0.43,"v":0.36},{"c":"0.50","m":"G''","w":0.664,"v":0.45},{"c":"0.50","m":"G''","w":1.03,"v":0.55},{"c":"0.50","m":"G''","w":1.58,"v":0.65},{"c":"0.50","m":"G''","w":2.45,"v":0.78},{"c":"0.50","m":"G''","w":3.78,"v":0.85},{"c":"0.50","m":"G''","w":5.84,"v":0.95},{"c":"0.50","m":"G''","w":9.03,"v":1.05},{"c":"0.50","m":"G''","w":13.9,"v":1.3},{"c":"0.50","m":"G''","w":21.5,"v":1.7},{"c":"0.50","m":"G''","w":33.3,"v":2.0},{"c":"0.50","m":"G''","w":51.4,"v":2.2},{"c":"0.50","m":"G''","w":79.4,"v":1.2},
{"c":"0.50","m":"G''","r":2,"w":0.0316,"v":0.022},{"c":"0.50","m":"G''","r":2,"w":0.0489,"v":0.045},{"c":"0.50","m":"G''","r":2,"w":0.0755,"v":0.07},{"c":"0.50","m":"G''","r":2,"w":0.117,"v":0.1},{"c":"0.50","m":"G''","r":2,"w":0.18,"v":0.14},{"c":"0.50","m":"G''","r":2,"w":0.278,"v":0.2},{"c":"0.50","m":"G''","r":2,"w":0.43,"v":0.3},{"c":"0.50","m":"G''","r":2,"w":0.664,"v":0.4},{"c":"0.50","m":"G''","r":2,"w":1.03,"v":0.5},{"c":"0.50","m":"G''","r":2,"w":1.58,"v":0.6},{"c":"0.50","m":"G''","r":2,"w":2.45,"v":0.72},{"c":"0.50","m":"G''","r":2,"w":3.78,"v":0.82},{"c":"0.50","m":"G''","r":2,"w":5.84,"v":0.9},{"c":"0.50","m":"G''","r":2,"w":9.03,"v":1.0},{"c":"0.50","m":"G''","r":2,"w":13.9,"v":1.2},{"c":"0.50","m":"G''","r":2,"w":21.5,"v":1.55},{"c":"0.50","m":"G''","r":2,"w":33.3,"v":1.85},{"c":"0.50","m":"G''","r":2,"w":51.4,"v":2.0},{"c":"0.50","m":"G''","r":2,"w":79.4,"v":1.0}
],
"LA": [
{"c":"0.003","m":"G'"},{"c":"0.003","m":"G''"},{"c":"0.004","m":"G'"},{"c":"0.004","m":"G''"},{"c":"0.02","m":"G'"},{"c":"0.02","m":"G''"},{"c":"0.03","m":"G'"},{"c":"0.03","m":"G''"},{"c":"0.06","m":"G'"},{"c":"0.06","m":"G''"},{"c":"0.10","m":"G'"},{"c":"0.10","m":"G''"},{"c":"0.21","m":"G'"},{"c":"0.21","m":"G''"},{"c":"0.51","m":"G'"},{"c":"0.51","m":"G''"}
],
"LB": [
{"c":"0.002","m":"G'"},{"c":"0.002","m":"G''"},{"c":"0.004","m":"G'"},{"c":"0.004","m":"G''"},{"c":"0.01","m":"G'"},{"c":"0.01","m":"G''"},{"c":"0.02","m":"G'"},{"c":"0.02","m":"G''"},{"c":"0.05","m":"G'"},{"c":"0.05","m":"G''"},{"c":"0.11","m":"G'"},{"c":"0.11","m":"G''"},{"c":"0.21","m":"G'"},{"c":"0.21","m":"G''"},{"c":"0.50","m":"G'"},{"c":"0.50","m":"G''"}
]
},
"bounds": "flush",
"spacing": 204,
"resolve": {"scale": {"stroke": "independent", "fill": "independent", "shape": "independent"}},
"hconcat": [
{
 "width": 416, "height": 307,
 "resolve": {"scale": {"x": "independent", "y": "independent"}},
 "layer": [
  {
   "layer": [
    {"data": {"name": "A"},
     "mark": {"type": "line", "strokeWidth": 1.1},
     "encoding": {
      "x": {"field": "w", "type": "quantitative", "scale": {"type": "log", "domain": [0.01, 300], "nice": false},
        "axis": {"title": "Kreisfrequenz ω / rad s⁻¹", "values": [0.01,0.02,0.03,0.04,0.05,0.06,0.07,0.08,0.09,0.1,0.2,0.3,0.4,0.5,0.6,0.7,0.8,0.9,1,2,3,4,5,6,7,8,9,10,20,30,40,50,60,70,80,90,100,200,300],
          "labelExpr": "abs(log(datum.value)/LN10 - round(log(datum.value)/LN10)) < 0.01 ? replace(toString(datum.value), '.', ',') : ''",
          "tickSize": {"condition": {"test": "abs(log(datum.value)/LN10 - round(log(datum.value)/LN10)) < 0.01", "value": -6}, "value": -3},
          "labelPadding": 12, "titlePadding": 2}},
      "y": {"field": "v", "type": "quantitative", "scale": {"type": "log", "domain": [0.001, 100], "nice": false},
        "axis": {"title": "G' , G'' / Pa", "values": [0.001,0.002,0.003,0.004,0.005,0.006,0.007,0.008,0.009,0.01,0.02,0.03,0.04,0.05,0.06,0.07,0.08,0.09,0.1,0.2,0.3,0.4,0.5,0.6,0.7,0.8,0.9,1,2,3,4,5,6,7,8,9,10,20,30,40,50,60,70,80,90,100],
          "labelExpr": "abs(log(datum.value)/LN10 - round(log(datum.value)/LN10)) < 0.01 ? (datum.value < 0.005 ? '1E-3' : replace(toString(datum.value), '.', ',')) : ''",
          "tickSize": {"condition": {"test": "abs(log(datum.value)/LN10 - round(log(datum.value)/LN10)) < 0.01", "value": -6}, "value": -3},
          "labelPadding": 9, "titleX": -40, "titleY": 163}},
      "stroke": {"field": "c", "type": "nominal", "legend": null, "scale": {"domain": ["0.003","0.004","0.02","0.03","0.06","0.10","0.21","0.51"], "range": ["#000000","#3a3a3a","#707070","#000000","#5c5c5c","#454545","#7c7c7c","#000000"]}},
      "detail": [{"field": "m"}, {"field": "r"}]
     }},
    {"data": {"name": "A"},
     "mark": {"type": "point", "filled": true, "size": 50, "strokeWidth": 1, "opacity": 1},
     "encoding": {
      "x": {"field": "w", "type": "quantitative"},
      "y": {"field": "v", "type": "quantitative"},
      "stroke": {"field": "c", "type": "nominal", "legend": null},
      "fill": {"condition": {"test": "datum.m === \"G''\"", "value": "white"}, "field": "c", "type": "nominal", "legend": null, "scale": {"domain": ["0.003","0.004","0.02","0.03","0.06","0.10","0.21","0.51"], "range": ["#000000","#3a3a3a","#707070","#000000","#5c5c5c","#454545","#7c7c7c","#000000"]}},
      "shape": {"field": "c", "type": "nominal", "legend": null, "scale": {"domain": ["0.003","0.004","0.02","0.03","0.06","0.10","0.21","0.51"], "range": ["square","circle","triangle-up","triangle-down","triangle-left","triangle-right","diamond","M0,-1L0.951,-0.309L0.588,0.809L-0.588,0.809L-0.951,-0.309Z"]}}
     }},
    {"data": {"values": [{"t": "A"}]},
     "mark": {"type": "text", "align": "left", "baseline": "top", "fontSize": 20, "color": "#1a1a1a", "dy": 1},
     "encoding": {"x": {"datum": 0.0122, "type": "quantitative"}, "y": {"datum": 100, "type": "quantitative"}, "text": {"field": "t"}}}
   ]
  },
  {
   "data": {"name": "LA"},
   "encoding": {
    "x": {"field": "m", "type": "nominal", "axis": null, "scale": {"type": "point", "domain": ["G'","G''"], "range": [395, 460], "padding": 0}},
    "y": {"field": "c", "type": "nominal", "axis": null, "scale": {"type": "point", "domain": ["0.003","0.004","0.02","0.03","0.06","0.10","0.21","0.51"], "range": [5, 292], "padding": 0}}
   },
   "layer": [
    {"mark": {"type": "point", "shape": "M-1,0H1", "size": 1369, "filled": false, "strokeWidth": 1.2},
     "encoding": {"stroke": {"condition": {"test": "datum.m === \"G''\"", "value": "#8c8c8c"}, "field": "c", "type": "nominal", "legend": null}}},
    {"mark": {"type": "point", "filled": true, "size": 38, "strokeWidth": 1, "opacity": 1},
     "encoding": {
      "stroke": {"condition": {"test": "datum.m === \"G''\"", "value": "#8c8c8c"}, "field": "c", "type": "nominal", "legend": null},
      "fill": {"condition": {"test": "datum.m === \"G''\"", "value": "white"}, "field": "c", "type": "nominal", "legend": null},
      "shape": {"field": "c", "type": "nominal", "legend": null}}},
    {"mark": {"type": "text", "align": "left", "baseline": "middle", "dx": 23, "fontSize": 16, "color": "#1a1a1a"},
     "encoding": {"text": {"field": "m"}}},
    {"transform": [{"filter": "datum.m === \"G'\""}],
     "mark": {"type": "text", "align": "left", "baseline": "middle", "dx": -17, "dy": -20, "fontSize": 16, "color": "#1a1a1a"},
     "encoding": {"text": {"field": "c"}}},
    {"transform": [{"filter": "datum.m === \"G'\" && datum.c === '0.003'"}],
     "mark": {"type": "text", "align": "left", "baseline": "middle", "dx": -17, "dy": -38, "fontSize": 16, "color": "#1a1a1a"},
     "encoding": {"text": {"value": "Arylpon F / wt%"}}}
   ]
  }
 ]
},
{
 "width": 414, "height": 307,
 "resolve": {"scale": {"x": "independent", "y": "independent"}},
 "layer": [
  {
   "layer": [
    {"data": {"name": "B"},
     "mark": {"type": "line", "strokeWidth": 1.1},
     "encoding": {
      "x": {"field": "w", "type": "quantitative", "scale": {"type": "log", "domain": [0.01, 300], "nice": false},
        "axis": {"title": "Kreisfrequenz ω / rad s−1", "values": [0.01,0.02,0.03,0.04,0.05,0.06,0.07,0.08,0.09,0.1,0.2,0.3,0.4,0.5,0.6,0.7,0.8,0.9,1,2,3,4,5,6,7,8,9,10,20,30,40,50,60,70,80,90,100,200,300],
          "labelExpr": "abs(log(datum.value)/LN10 - round(log(datum.value)/LN10)) < 0.01 ? replace(toString(datum.value), '.', ',') : ''",
          "tickSize": {"condition": {"test": "abs(log(datum.value)/LN10 - round(log(datum.value)/LN10)) < 0.01", "value": -6}, "value": -3},
          "labelPadding": 12, "titlePadding": 2}},
      "y": {"field": "v", "type": "quantitative", "scale": {"type": "log", "domain": [0.001, 100], "nice": false},
        "axis": {"title": "G' , G'' / Pa", "values": [0.001,0.002,0.003,0.004,0.005,0.006,0.007,0.008,0.009,0.01,0.02,0.03,0.04,0.05,0.06,0.07,0.08,0.09,0.1,0.2,0.3,0.4,0.5,0.6,0.7,0.8,0.9,1,2,3,4,5,6,7,8,9,10,20,30,40,50,60,70,80,90,100],
          "labelExpr": "abs(log(datum.value)/LN10 - round(log(datum.value)/LN10)) < 0.01 ? (datum.value < 0.005 ? '1E-3' : replace(toString(datum.value), '.', ',')) : ''",
          "tickSize": {"condition": {"test": "abs(log(datum.value)/LN10 - round(log(datum.value)/LN10)) < 0.01", "value": -6}, "value": -3},
          "labelPadding": 9, "titleX": -56, "titleY": 160}},
      "stroke": {"field": "c", "type": "nominal", "legend": null, "scale": {"domain": ["0.002","0.004","0.01","0.02","0.05","0.11","0.21","0.50"], "range": ["#000000","#3a3a3a","#707070","#000000","#5c5c5c","#454545","#7c7c7c","#000000"]}},
      "detail": [{"field": "m"}, {"field": "r"}]
     }},
    {"data": {"name": "B"},
     "mark": {"type": "point", "filled": true, "size": 50, "strokeWidth": 1, "opacity": 1},
     "encoding": {
      "x": {"field": "w", "type": "quantitative"},
      "y": {"field": "v", "type": "quantitative"},
      "stroke": {"field": "c", "type": "nominal", "legend": null},
      "fill": {"condition": {"test": "datum.m === \"G''\"", "value": "white"}, "field": "c", "type": "nominal", "legend": null, "scale": {"domain": ["0.002","0.004","0.01","0.02","0.05","0.11","0.21","0.50"], "range": ["#000000","#3a3a3a","#707070","#000000","#5c5c5c","#454545","#7c7c7c","#000000"]}},
      "shape": {"field": "c", "type": "nominal", "legend": null, "scale": {"domain": ["0.002","0.004","0.01","0.02","0.05","0.11","0.21","0.50"], "range": ["square","circle","triangle-up","triangle-down","triangle-left","triangle-right","diamond","M0,-1L0.951,-0.309L0.588,0.809L-0.588,0.809L-0.951,-0.309Z"]}}
     }},
    {"data": {"values": [{"t": "B"}]},
     "mark": {"type": "text", "align": "left", "baseline": "top", "fontSize": 20, "color": "#1a1a1a", "dy": -4},
     "encoding": {"x": {"datum": 0.016, "type": "quantitative"}, "y": {"datum": 100, "type": "quantitative"}, "text": {"field": "t"}}}
   ]
  },
  {
   "data": {"name": "LB"},
   "encoding": {
    "x": {"field": "m", "type": "nominal", "axis": null, "scale": {"type": "point", "domain": ["G'","G''"], "range": [390, 448], "padding": 0}},
    "y": {"field": "c", "type": "nominal", "axis": null, "scale": {"type": "point", "domain": ["0.002","0.004","0.01","0.02","0.05","0.11","0.21","0.50"], "range": [12, 292], "padding": 0}}
   },
   "layer": [
    {"mark": {"type": "point", "shape": "M-1,0H1", "size": 1369, "filled": false, "strokeWidth": 1.2},
     "encoding": {"stroke": {"condition": {"test": "datum.m === \"G''\"", "value": "#8c8c8c"}, "field": "c", "type": "nominal", "legend": null}}},
    {"mark": {"type": "point", "filled": true, "size": 38, "strokeWidth": 1, "opacity": 1},
     "encoding": {
      "stroke": {"condition": {"test": "datum.m === \"G''\"", "value": "#8c8c8c"}, "field": "c", "type": "nominal", "legend": null},
      "fill": {"condition": {"test": "datum.m === \"G''\"", "value": "white"}, "field": "c", "type": "nominal", "legend": null},
      "shape": {"field": "c", "type": "nominal", "legend": null}}},
    {"mark": {"type": "text", "align": "left", "baseline": "middle", "dx": 24, "fontSize": 16, "color": "#1a1a1a"},
     "encoding": {"text": {"field": "m"}}},
    {"transform": [{"filter": "datum.m === \"G'\""}],
     "mark": {"type": "text", "align": "left", "baseline": "middle", "dx": -19, "dy": -20, "fontSize": 16, "color": "#1a1a1a"},
     "encoding": {"text": {"field": "c"}}},
    {"transform": [{"filter": "datum.m === \"G'\" && datum.c === '0.002'"}],
     "mark": {"type": "text", "align": "left", "baseline": "middle", "dx": -19, "dy": -40, "fontSize": 16, "color": "#1a1a1a"},
     "encoding": {"text": {"value": "LS 9 / wt%"}}}
   ]
  }
 ]
}
]
}
